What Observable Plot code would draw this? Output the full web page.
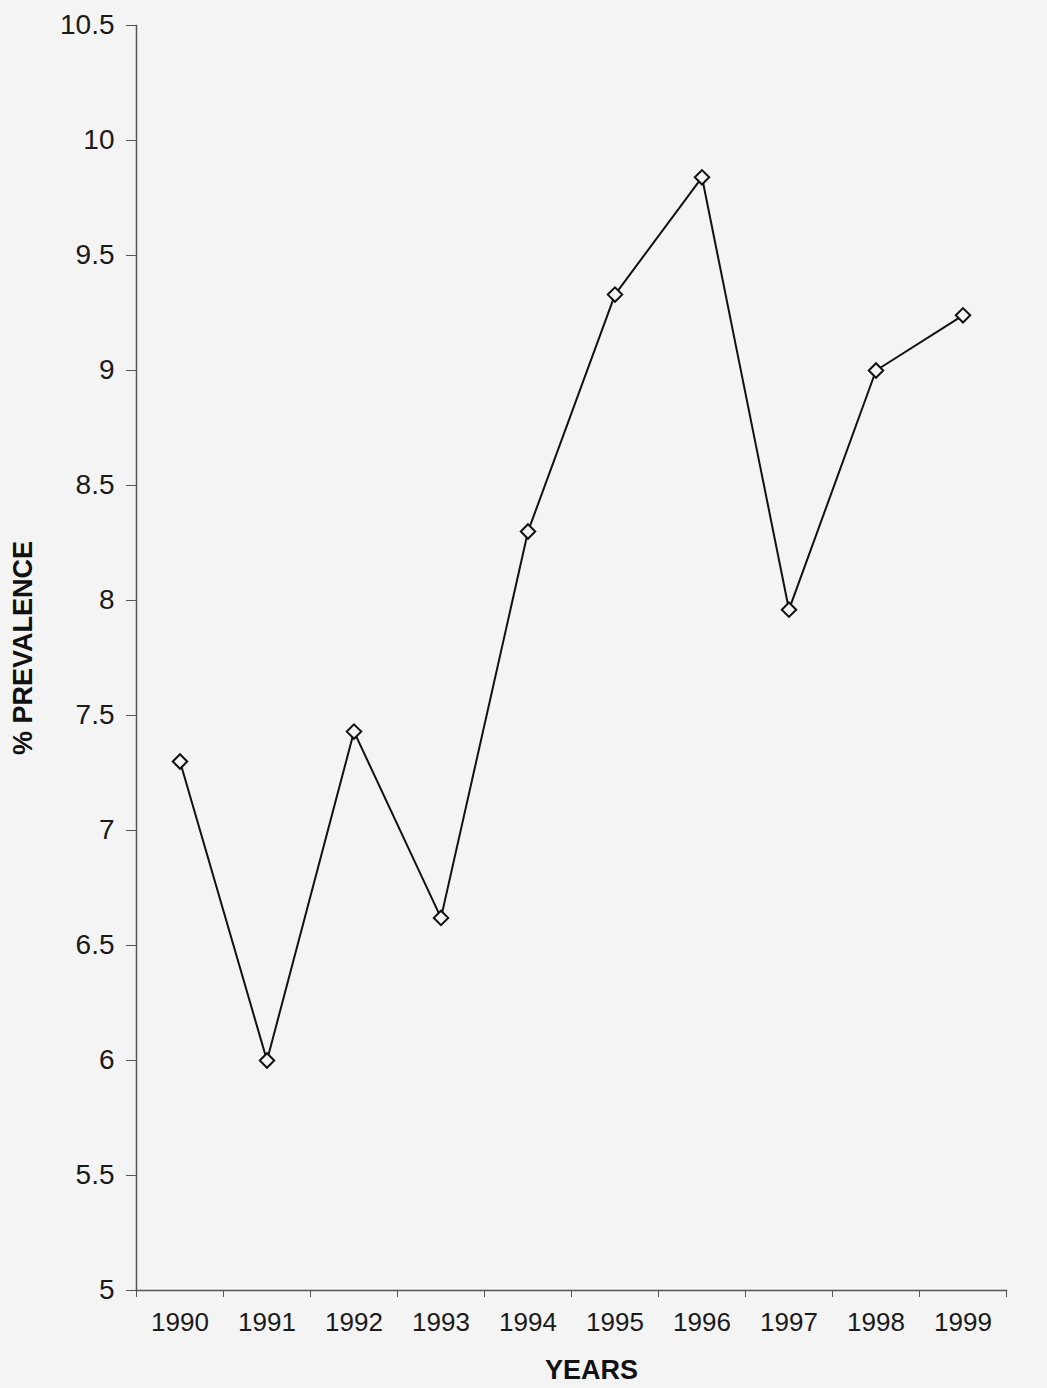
<!DOCTYPE html>
<html>
<head>
<meta charset="utf-8">
<script src="https://cdn.jsdelivr.net/npm/d3@7"></script>
<script src="https://cdn.jsdelivr.net/npm/@observablehq/plot@0.6"></script>
<style>
  html, body { margin: 0; padding: 0; background: #f4f4f4; }
  #chart svg { display: block; background: transparent; }
</style>
</head>
<body>
<div id="chart"></div>
<script>
const years = [1990, 1991, 1992, 1993, 1994, 1995, 1996, 1997, 1998, 1999];
const prevalence = [7.3, 6.0, 7.43, 6.62, 8.3, 9.33, 9.84, 7.96, 9.0, 9.24];
const yTicks = [5, 5.5, 6, 6.5, 7, 7.5, 8, 8.5, 9, 9.5, 10, 10.5];
const yLabel = "% PREVALENCE";
const xLabel = "YEARS";

const data = years.map((y, i) => ({year: y, value: prevalence[i]}));
const boundaries = years.map(y => y + 0.5);

const chart = Plot.plot({
  width: 1047,
  height: 1388,
  marginLeft: 136,
  marginRight: 41,
  marginTop: 25,
  marginBottom: 98,
  style: {fontFamily: "'Liberation Sans', Arial, sans-serif", color: "#1a1a1a", background: "transparent"},
  x: {domain: [years[0] - 0.5, years[years.length - 1] + 0.5]},
  y: {domain: [5, 10.5]},
  marks: [
    Plot.frame({anchor: "left", stroke: "#555", strokeWidth: 1.5}),
    Plot.frame({anchor: "bottom", stroke: "#555", strokeWidth: 1.5}),
    Plot.axisY({ticks: yTicks, tickSize: 10, tickPadding: 12, fontSize: 28, tickFormat: d => String(d), label: null, stroke: "#555"}),
    Plot.axisX({ticks: [years[0] - 0.5, ...boundaries], tickSize: 7, tickFormat: () => "", label: null, stroke: "#555"}),
    Plot.axisX({ticks: years, tickSize: 0, tickPadding: 22, fontSize: 26, tickFormat: d => String(d), label: null}),
    Plot.line(data, {x: "year", y: "value", stroke: "#111", strokeWidth: 2}),
    Plot.dot(data, {x: "year", y: "value", symbol: "diamond2", r: 6.5, stroke: "#111", strokeWidth: 2, fill: "#f4f4f4"}),
    Plot.text([xLabel], {frameAnchor: "bottom", text: d => d, dx: 20, dy: 88, fontSize: 27, fontWeight: "bold", fill: "#111"}),
    Plot.text([yLabel], {frameAnchor: "left", text: d => d, rotate: -90, textAnchor: "middle", dx: -113, dy: -10, fontSize: 27, fontWeight: "bold", fill: "#111"})
  ]
});
document.getElementById("chart").appendChild(chart);
</script>
</body>
</html>
